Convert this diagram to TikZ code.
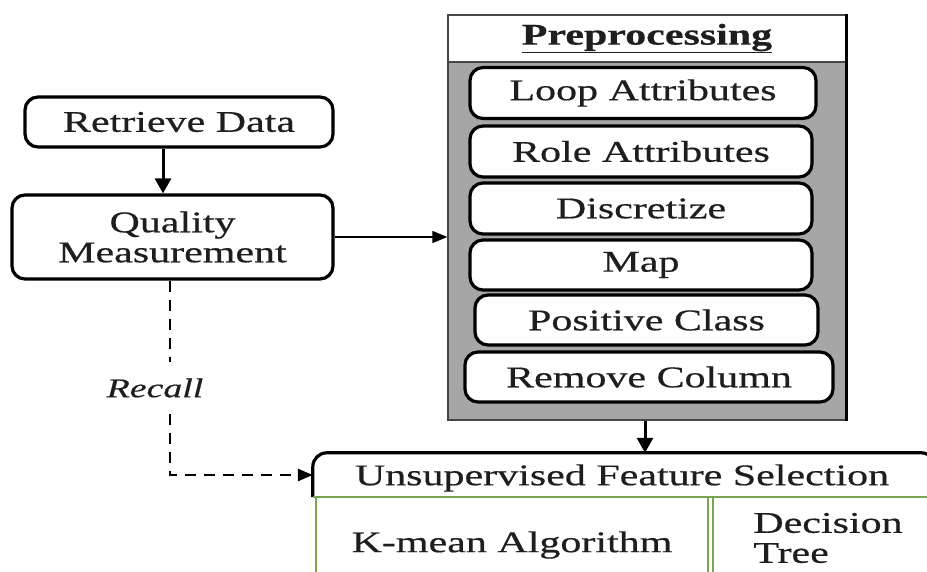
\documentclass[tikz,border=0pt]{standalone}
\usepackage{fontspec}
\setmainfont{Liberation Serif}[FakeStretch=1.4, FakeBold=0.5]
\usetikzlibrary{arrows.meta}

\definecolor{inkc}{RGB}{30,30,30}
\definecolor{panelgray}{RGB}{166,166,166}
\definecolor{paneledge}{RGB}{70,70,70}
\definecolor{leafgreen}{RGB}{120,165,80}

\tikzset{
  txt/.style={font=\fontsize{30}{32}\selectfont, text=inkc},
  stepbox/.style={txt, draw=black, line width=3.2pt, rounded corners=13pt,
                  fill=white, inner sep=0pt},
  headbox/.style={draw=paneledge, line width=1.4pt, fill=white, inner sep=0pt},
  bodybox/.style={draw=paneledge, line width=1.4pt, fill=panelgray, inner sep=0pt},
  greenbox/.style={draw=leafgreen, line width=2.2pt, inner sep=0pt},
  thickarrow/.style={line width=3pt, -{Triangle[length=15pt,width=16pt]}},
  thinarrow/.style={line width=1.4pt, -{Triangle[length=15pt,width=12pt]}},
  recallarrow/.style={line width=2.6pt, dash pattern=on 11pt off 8pt,
                      -{Triangle[length=15pt,width=12pt]}},
}

\begin{document}
\begin{tikzpicture}[x=1pt, y=-1pt]
  \useasboundingbox (0,0) rectangle (927,572);
  \clip (0,0) rectangle (927,572);

  % left column
  \node[stepbox, minimum width=308pt, minimum height=50pt] (retrieve) at (179,122) {Retrieve Data};
  \node[stepbox, minimum width=321pt, minimum height=84pt, align=center] (quality) at (172.5,237)
       {Quality\\[-2pt]Measurement};

  % preprocessing panel
  \node[bodybox, minimum width=398pt, minimum height=358pt] (prebody) at (647,241) {};
  \node[headbox, minimum width=398pt, minimum height=47pt, txt] (prehead) at (647,38.5)
       {\underline{\textbf{Preprocessing}}};
  \draw[black, line width=3pt] (prehead.north east) -- (prebody.south east);

  \node[stepbox, minimum width=346pt, minimum height=51pt] (loop)  at (643,93)  {Loop Attributes};
  \node[stepbox, minimum width=342pt, minimum height=51pt] (role)  at (641,151.5) {Role Attributes};
  \node[stepbox, minimum width=342pt, minimum height=51pt] (disc)  at (641,208.5) {Discretize};
  \node[stepbox, minimum width=342pt, minimum height=50pt] (map)   at (641,265) {Map};
  \node[stepbox, minimum width=343pt, minimum height=50pt] (pos)   at (646.5,320) {Positive Class};
  \node[stepbox, minimum width=368pt, minimum height=50pt] (remove) at (649,377) {Remove Column};

  % feature selection block
  \node[inner sep=0pt, minimum width=622pt, minimum height=44pt] (usfs) at (624,475) {};
  \node[txt] (usfstext) at (622,478) {Unsupervised Feature Selection};
  \node[greenbox, minimum width=392pt, minimum height=110pt] (kmean) at (512,552) {};
  \node[greenbox, minimum width=222pt, minimum height=110pt] (dtree) at (824,552) {};
  \node[txt] (kmeantext) at (kmean.center |- 0,545) {K-mean Algorithm};
  \node[txt, align=left] (dtreetext) at (828,538) {Decision\\[-2pt]Tree};
  \draw[black, line width=3.2pt, rounded corners=14pt]
       (usfs.south west) |- (usfs.north east) -- (usfs.south east);
  \draw[leafgreen, line width=2.2pt] (usfs.south west) -- (usfs.south east);

  % connectors
  \draw[thickarrow] (retrieve.south -| 163,0) -- (quality.north -| 163,0);
  \draw[thinarrow] (quality.east) -- (quality.east -| prebody.west);
  \draw[thickarrow] (prebody.south -| 645,0) -- (usfs.north -| 645,0);
  \draw[recallarrow] (quality.south -| 170,0) |- (usfs.west);
  \node[fill=white, inner xsep=4pt, minimum height=52pt,
        font=\fontsize{27}{28}\selectfont\itshape, text=inkc] (recall) at (155,388) {Recall};
\end{tikzpicture}
\end{document}
